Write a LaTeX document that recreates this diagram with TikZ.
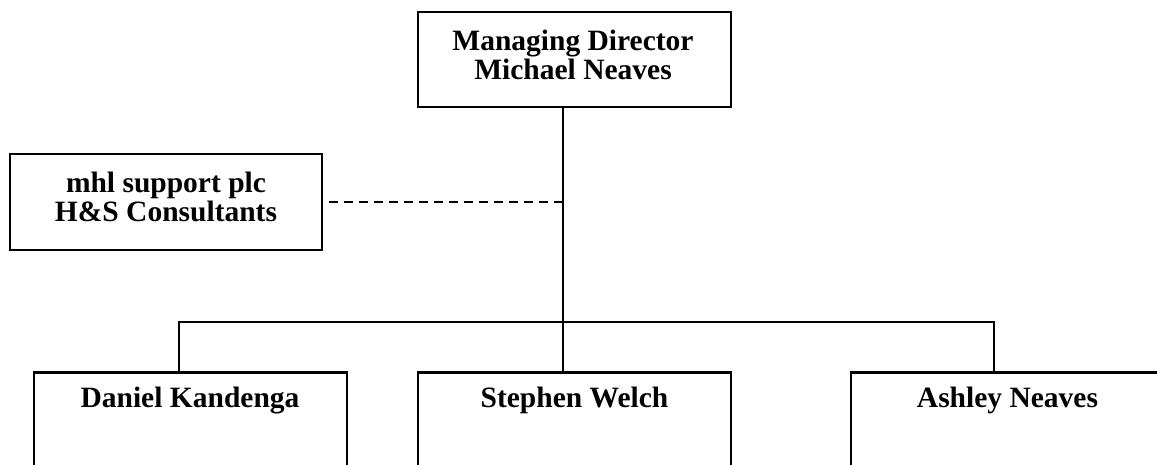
\documentclass[tikz,border=0pt]{standalone}
\usepackage{fontspec}
\setmainfont{Liberation Serif}
\begin{document}
\begin{tikzpicture}[x=1pt,y=-1pt,
  orgbox/.style={draw=black,line width=2.5pt,fill=none,inner sep=0pt,minimum width=313pt},
  txt/.style={inner sep=0pt,anchor=base,font=\fontsize{29.5}{29.5}\selectfont\bfseries},
  conn/.style={draw=black,line width=2.6pt},
  dotted link/.style={draw=black,line width=1.3pt,dash pattern=on 9pt off 6pt,dash phase=9pt}]
\useasboundingbox (0,0) rectangle (1157,464);
\clip (0,0) rectangle (1157,464);
% boxes
\node[orgbox,minimum height=95pt] (md) at (574.5,59.5) {};
\node[orgbox,minimum width=312pt,minimum height=96pt] (hs) at (166,202) {};
\node[orgbox,minimum height=130pt,anchor=north] (dk) at (190.5,371) {};
\node[orgbox,minimum height=130pt,anchor=north] (sw) at (574.5,371) {};
\node[orgbox,minimum height=130pt,anchor=north] (an) at (1007.5,371) {};
% texts
\node[txt] (md1) at (573,50) {Managing Director};
\node[txt] (md2) at (573,79) {Michael Neaves};
\node[txt] (hs1) at (166,192.5) {mhl support plc};
\node[txt] (hs2) at (166,221.5) {H\&S Consultants};
\node[txt] (dkt) at (190,407) {Daniel Kandenga};
\node[txt] (swt) at (574.5,407) {Stephen Welch};
\node[txt] (ant) at (1007.5,407) {Ashley Neaves};
% connectors
\coordinate (jt) at (563,322);
\coordinate (bl) at (179,322);
\coordinate (br) at (994,322);
\draw[conn] (jt |- md.south) -- (jt |- sw.north);
\draw[conn] (bl |- dk.north) -- (bl) -- (br) -- (br |- an.north);
\draw[dotted link] (hs.east) -- (hs.east -| jt);
\end{tikzpicture}
\end{document}
